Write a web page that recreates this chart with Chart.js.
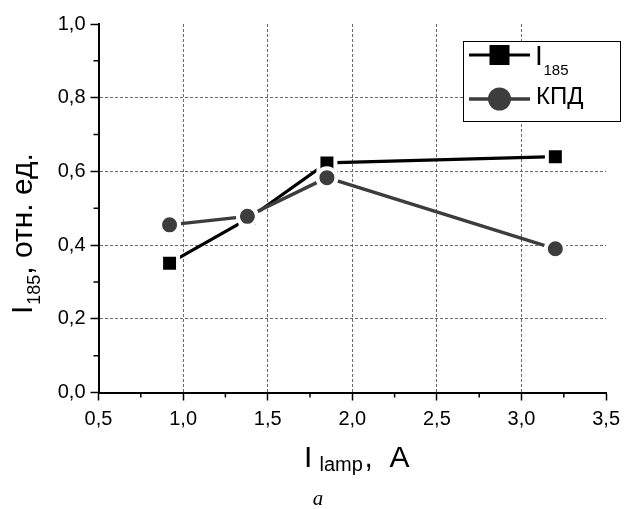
<!DOCTYPE html>
<html>
<head>
<meta charset="utf-8">
<script src="https://cdn.jsdelivr.net/npm/chart.js@4"></script>
<style>
  html, body { margin: 0; padding: 0; background: #fff; }
  #wrap { width: 627px; height: 509px; position: relative; }
</style>
</head>
<body>
<div id="wrap"><canvas id="c" width="627" height="509"></canvas></div>
<script>
// ---- data ----
const lampCurrent = [0.92, 1.39, 1.85, 3.20];
const i185Values = [0.351, 0.473, 0.623, 0.640];
const kpdValues = [0.455, 0.478, 0.583, 0.390];
const kpdCurrent = [0.92, 1.38, 1.85, 3.20];
const seriesNames = ['I185', 'КПД'];
const xMinorTicks = [0.75, 1.25, 1.75, 2.25, 2.75, 3.25];
const yMinorTicks = [0.1, 0.3, 0.5, 0.7, 0.9];

const FONT = '"Liberation Sans", Arial, sans-serif';
const KPD_COLOR = '#3d3d3d';

const fmt = v => Number(v).toFixed(1).replace('.', ',');

const decorPlugin = {
  id: 'decor',
  afterDraw(chart) {
    const ctx = chart.ctx;
    const xs = chart.scales.x, ys = chart.scales.y;
    const area = chart.chartArea;
    ctx.save();
    // minor ticks
    ctx.strokeStyle = '#000';
    ctx.lineWidth = 1.5;
    ctx.beginPath();
    xMinorTicks.forEach(v => {
      const px = xs.getPixelForValue(v);
      ctx.moveTo(px, area.bottom);
      ctx.lineTo(px, area.bottom + 5);
    });
    yMinorTicks.forEach(v => {
      const py = ys.getPixelForValue(v);
      ctx.moveTo(area.left, py);
      ctx.lineTo(area.left - 5, py);
    });
    ctx.stroke();

    // legend
    const bx = 463.5, by = 41.5, bw = 157, bh = 80;
    ctx.fillStyle = '#fff';
    ctx.fillRect(bx, by, bw, bh);
    ctx.strokeStyle = '#000';
    ctx.lineWidth = 1;
    ctx.strokeRect(bx, by, bw, bh);
    // item 1
    ctx.strokeStyle = '#000';
    ctx.lineWidth = 3;
    ctx.beginPath(); ctx.moveTo(469, 55); ctx.lineTo(530, 55); ctx.stroke();
    ctx.fillStyle = '#000';
    ctx.fillRect(499.5 - 10, 55 - 10, 20, 20);
    ctx.textBaseline = 'alphabetic';
    ctx.textAlign = 'left';
    ctx.font = '28px ' + FONT;
    ctx.fillText(seriesNames[0].slice(0, 1), 535, 65);
    ctx.font = '15px ' + FONT;
    ctx.fillText(seriesNames[0].slice(1), 543.5, 74.5);
    // item 2
    ctx.strokeStyle = KPD_COLOR;
    ctx.lineWidth = 3.3;
    ctx.beginPath(); ctx.moveTo(469, 99); ctx.lineTo(530, 99); ctx.stroke();
    ctx.fillStyle = KPD_COLOR;
    ctx.beginPath(); ctx.arc(499.5, 99, 11.5, 0, Math.PI * 2); ctx.fill();
    ctx.fillStyle = '#000';
    ctx.font = '24px ' + FONT;
    ctx.fillText(seriesNames[1], 536, 104);

    // x title: I_lamp , A
    ctx.fillStyle = '#000';
    ctx.font = '30px ' + FONT;
    ctx.fillText('I', 304, 466.7);
    ctx.font = '20px ' + FONT;
    ctx.fillText('lamp', 319.5, 471);
    ctx.font = '30px ' + FONT;
    ctx.fillText(',', 364.5, 466.7);
    ctx.fillText('A', 389.5, 466.7);

    // y title: I_185, отн. ед.
    ctx.save();
    ctx.translate(31.7, 314);
    ctx.rotate(-Math.PI / 2);
    ctx.font = '30px ' + FONT;
    ctx.fillText('I', 0, 0);
    let w = ctx.measureText('I').width + 1;
    ctx.font = '18px ' + FONT;
    ctx.fillText('185', w, 8);
    w += ctx.measureText('185').width;
    ctx.font = '30px ' + FONT;
    ctx.fillText(', отн. ед.', w, 0);
    ctx.restore();

    // panel label
    ctx.font = 'italic 21px "Liberation Serif", "Times New Roman", serif';
    ctx.textAlign = 'center';
    ctx.fillText('a', 318, 505);
    ctx.restore();
  }
};

new Chart(document.getElementById('c'), {
  type: 'line',
  data: {
    datasets: [
      {
        label: seriesNames[1],
        data: kpdCurrent.map((x, i) => ({ x, y: kpdValues[i] })),
        borderColor: KPD_COLOR,
        backgroundColor: KPD_COLOR,
        borderWidth: 3.4,
        pointStyle: 'circle',
        pointRadius: 9.5,
        pointBorderColor: '#fff',
        pointBorderWidth: 4,
        pointBackgroundColor: KPD_COLOR,
        tension: 0,
        order: 0
      },
      {
        label: seriesNames[0],
        data: lampCurrent.map((x, i) => ({ x, y: i185Values[i] })),
        borderColor: '#000',
        backgroundColor: '#000',
        borderWidth: 3.2,
        pointStyle: 'rect',
        pointRadius: 12,
        pointBorderColor: '#fff',
        pointBorderWidth: 4,
        pointBackgroundColor: '#000',
        tension: 0,
        order: 1
      }
    ]
  },
  options: {
    responsive: false,
    animation: false,
    events: [],
    layout: { padding: { top: 24, right: 19.5, left: 0, bottom: 0 } },
    plugins: {
      legend: { display: false },
      tooltip: { enabled: false },
      title: { display: false }
    },
    scales: {
      x: {
        type: 'linear',
        min: 0.5, max: 3.5,
        afterFit: s => { s.height = 116.5; },
        ticks: {
          stepSize: 0.5,
          color: '#000',
          font: { family: FONT, size: 20 },
          padding: 7,
          maxRotation: 0,
          callback: v => fmt(v)
        },
        grid: {
          color: c => (c.tick && (Math.abs(c.tick.value - 0.5) < 1e-6 || Math.abs(c.tick.value - 3.5) < 1e-6)) ? 'rgba(0,0,0,0)' : '#6a6a6a',
          lineWidth: 1,
          tickColor: '#000',
          tickWidth: 1.5,
          tickLength: 8,
          tickBorderDash: []
        },
        border: { color: '#000', width: 2, dash: [3, 2] }
      },
      y: {
        type: 'linear',
        min: 0, max: 1,
        afterFit: s => { s.width = 98.5; },
        ticks: {
          stepSize: 0.2,
          color: '#000',
          font: { family: FONT, size: 20 },
          padding: 5,
          callback: v => fmt(v)
        },
        grid: {
          color: c => (c.tick && (Math.abs(c.tick.value) < 1e-6 || Math.abs(c.tick.value - 1) < 1e-6)) ? 'rgba(0,0,0,0)' : '#6a6a6a',
          lineWidth: 1,
          tickColor: '#000',
          tickWidth: 1.5,
          tickLength: 8,
          tickBorderDash: []
        },
        border: { color: '#000', width: 2, dash: [3, 2] }
      }
    }
  },
  plugins: [decorPlugin]
});
</script>
</body>
</html>
